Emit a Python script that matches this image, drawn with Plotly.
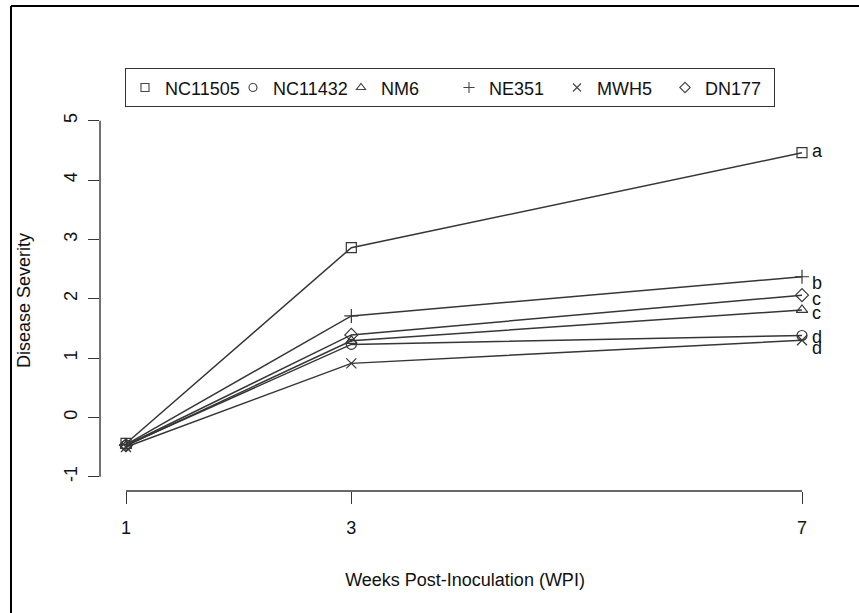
import plotly.graph_objects as go

# ---- data ----
weeks = [1, 3, 7]
cultivars = ["NC11505", "NC11432", "NM6", "NE351", "MWH5", "DN177"]
nc11505 = [-0.44, 2.86, 4.46]
nc11432 = [-0.47, 1.23, 1.38]
nm6 = [-0.48, 1.29, 1.81]
ne351 = [-0.46, 1.71, 2.37]
mwh5 = [-0.50, 0.91, 1.30]
dn177 = [-0.47, 1.39, 2.06]
letters = ["a", "d", "c", "b", "d", "c"]
x_ticks = [1, 3, 7]
y_ticks = [-1, 0, 1, 2, 3, 4, 5]

series = [nc11505, nc11432, nm6, ne351, mwh5, dn177]
symbols = ["square-open", "circle-open", "triangle-up-open",
           "cross-thin-open", "x-thin-open", "diamond-open"]
label_dy = [2, -2, -3, -6, -8, -4]  # pixel nudges of the letters (style)

FONT = "Liberation Sans, Arial, sans-serif"
LINE = "#363636"

W, H = 859, 613
L, R, T, B = 100, 830, 110, 491
xr = [0.7692, 7.2485]
yr = [-1.241, 5.180]

fig = go.Figure()
for name, vals, sym in zip(cultivars, series, symbols):
    fig.add_trace(go.Scatter(
        x=weeks, y=vals, name=name, mode="lines+markers",
        legendgroup=name, showlegend=False,
        line=dict(color=LINE, width=1.5),
        marker=dict(symbol=sym, size=10, color=LINE,
                    line=dict(color=LINE, width=1.2)),
        cliponaxis=False,
    ))
# legend entries: symbols only, as in the original
for name, sym in zip(cultivars, symbols):
    fig.add_trace(go.Scatter(
        x=[None], y=[None], name=name, mode="markers", legendgroup=name,
        marker=dict(symbol=sym, size=8, color="#444",
                    line=dict(color="#444", width=1.1)),
    ))

annotations = []
for vals, let, dy in zip(series, letters, label_dy):
    annotations.append(dict(
        x=weeks[-1], y=vals[-1], text=let, showarrow=False,
        xanchor="left", yanchor="middle", xshift=8, yshift=dy,
        font=dict(family=FONT, size=18, color="#111"),
    ))

def px_x(v):
    return (v - xr[0]) / (xr[1] - xr[0])

def px_y(v):
    return (v - yr[0]) / (yr[1] - yr[0])

pw, ph = R - L, B - T
shapes = [
    dict(type="line", xref="paper", yref="paper",
         x0=px_x(x_ticks[0]), x1=px_x(x_ticks[-1]), y0=0, y1=0,
         line=dict(color=LINE, width=1.4)),
    dict(type="line", xref="paper", yref="paper",
         x0=0, x1=0, y0=px_y(y_ticks[0]), y1=px_y(y_ticks[-1]),
         line=dict(color=LINE, width=1.4)),
    dict(type="line", xref="paper", yref="paper",
         x0=(11 - L) / pw, x1=(11 - L) / pw, y0=(B - 6) / ph, y1=(B - 640) / ph,
         line=dict(color="black", width=2)),
    dict(type="line", xref="paper", yref="paper",
         x0=(11 - L) / pw, x1=(880 - L) / pw, y0=(B - 6) / ph, y1=(B - 6) / ph,
         line=dict(color="black", width=2)),
]

fig.update_layout(
    width=W, height=H,
    margin=dict(l=L, r=W - R, t=T, b=H - B, pad=0),
    paper_bgcolor="white", plot_bgcolor="white",
    font=dict(family=FONT, size=18, color="#111"),
    showlegend=True,
    legend=dict(
        orientation="h", x=(125 - L) / pw, y=(B - 68) / ph,
        xanchor="left", yanchor="top",
        bordercolor="#333", borderwidth=1.3, bgcolor="white",
        font=dict(family=FONT, size=18, color="#111"),
        itemwidth=30, entrywidth=63, tracegroupgap=0,
    ),
    xaxis=dict(
        range=xr, tickvals=x_ticks, ticktext=[str(v) for v in x_ticks],
        showgrid=False, zeroline=False, showline=False,
        ticks="outside", ticklen=12, tickwidth=1.4, tickcolor=LINE,
        ticklabelstandoff=8,
        title=dict(text="Weeks Post-Inoculation (WPI)", standoff=36,
                   font=dict(family=FONT, size=18)),
        tickfont=dict(family=FONT, size=18),
        automargin=False,
    ),
    yaxis=dict(
        range=yr, tickvals=y_ticks, ticktext=[str(v) for v in y_ticks],
        showgrid=False, zeroline=False, showline=False,
        ticks="outside", ticklen=11, tickwidth=1.4, tickcolor=LINE,
        tickangle=-90, ticklabelstandoff=4,
        title=dict(text="Disease Severity", standoff=25,
                   font=dict(family=FONT, size=18)),
        tickfont=dict(family=FONT, size=18),
        automargin=False,
    ),
    shapes=shapes,
    annotations=annotations,
)

fig.write_html("out.html")
